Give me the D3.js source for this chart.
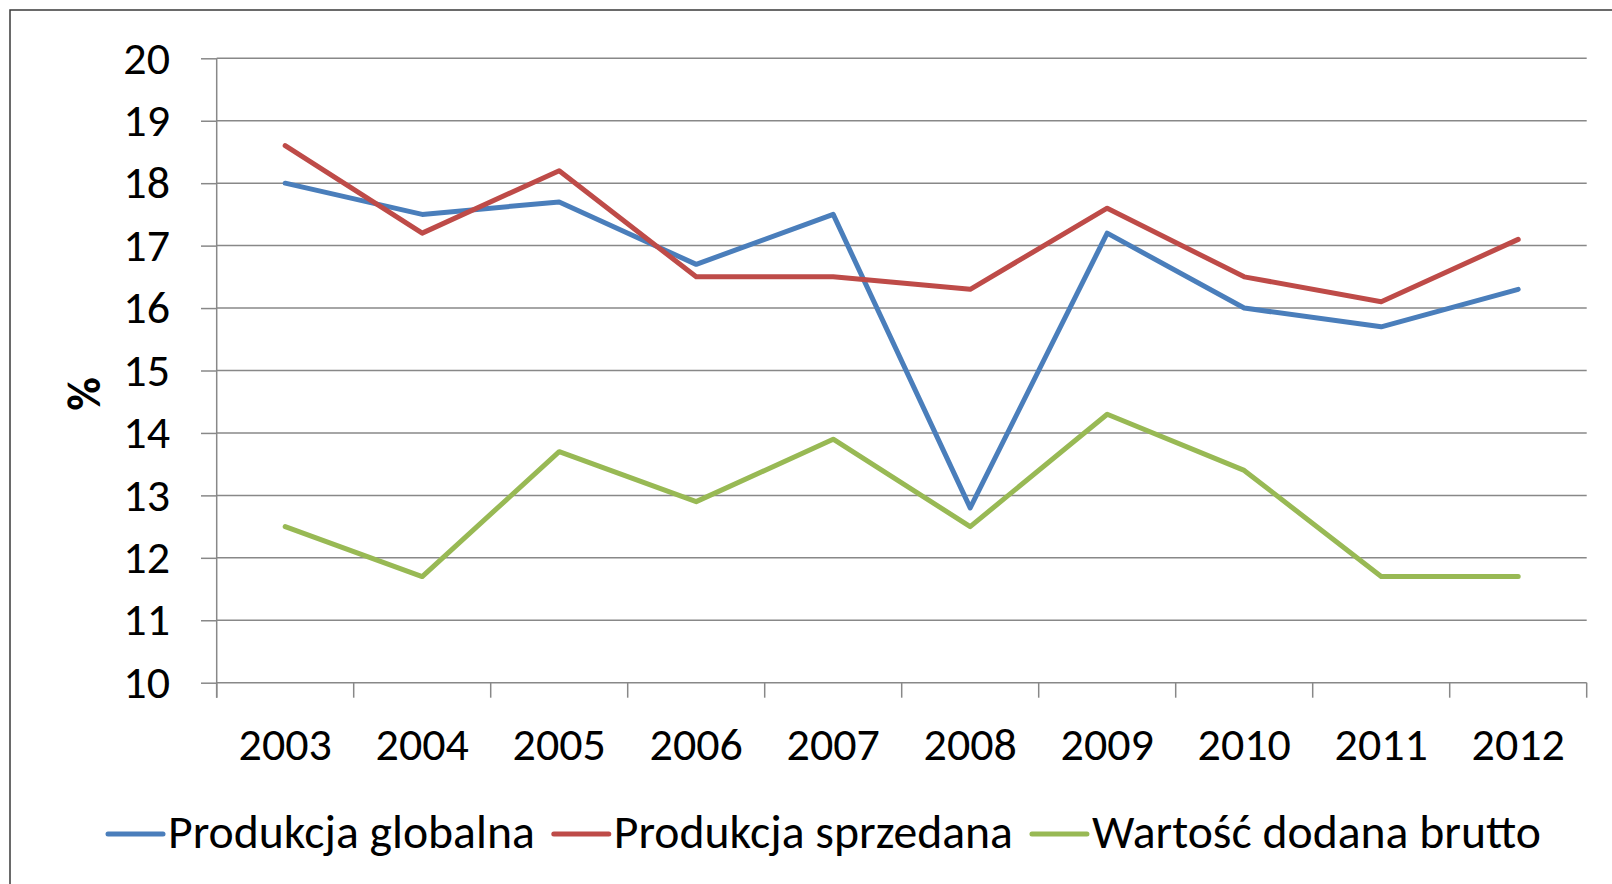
<!DOCTYPE html>
<html><head><meta charset="utf-8">
<script src="https://cdn.jsdelivr.net/npm/d3@7/dist/d3.min.js"></script>
<style>
html,body{margin:0;padding:0;background:#fff;}
svg{display:block;}
text{font-family:Carlito, Calibri, "Liberation Sans", Arial, sans-serif;fill:#000;}
</style></head>
<body>
<svg id="chart" width="1612" height="884"></svg>
<script>
const years = ["2003","2004","2005","2006","2007","2008","2009","2010","2011","2012"];
const produkcjaGlobalna = [18.0,17.5,17.7,16.7,17.5,12.8,17.2,16.0,15.7,16.3];
const produkcjaSprzedana = [18.6,17.2,18.2,16.5,16.5,16.3,17.6,16.5,16.1,17.1];
const wartoscDodana = [12.5,11.7,13.7,12.9,13.9,12.5,14.3,13.4,11.7,11.7];
const yTicks = [10,11,12,13,14,15,16,17,18,19,20];
const seriesNames = ["Produkcja globalna","Produkcja sprzedana","Wartość dodana brutto"];
const seriesColors = ["#4A7EBB","#BE4B48","#98B954"];
const seriesValues = [produkcjaGlobalna, produkcjaSprzedana, wartoscDodana];

const svg = d3.select("#chart");
const pLeft = 216.7, pRight = 1586.7, pTop = 58.3, pBottom = 682.7;
const FONT = "Carlito, Calibri, 'Liberation Sans', Arial, sans-serif";

// outer border
svg.append("rect").attr("x",10).attr("y",10).attr("width",1700).attr("height",1000)
  .attr("fill","none").attr("stroke","#3a3a3a").attr("stroke-width",1.5);

const x = d3.scaleBand().domain(years).range([pLeft,pRight]).padding(0);
const y = d3.scaleLinear().domain([10,20]).range([pBottom,pTop]);
const gridColor = "#888";

// gridlines
svg.append("g").selectAll("line").data(yTicks.filter(t=>t>10)).join("line")
  .attr("x1",pLeft).attr("x2",pRight).attr("y1",d=>y(d)).attr("y2",d=>y(d))
  .attr("stroke",gridColor).attr("stroke-width",1.5);

// y axis
const yAxis = svg.append("g").attr("transform",`translate(${pLeft},0)`)
  .call(d3.axisLeft(y).tickValues(yTicks).tickSize(15.7).tickPadding(31).tickFormat(d3.format("d")));
yAxis.select(".domain").attr("stroke",gridColor).attr("stroke-width",1.5).attr("d",`M0,${pTop}V${pBottom+15}`);
yAxis.selectAll(".tick line").attr("stroke",gridColor).attr("stroke-width",1.5);
yAxis.selectAll(".tick text").attr("font-size",46).attr("fill","#000").style("font-family",FONT);

// x axis labels
const xAxis = svg.append("g").attr("transform",`translate(0,${pBottom})`)
  .call(d3.axisBottom(x).tickSize(0).tickPadding(45));
xAxis.select(".domain").attr("stroke",gridColor).attr("stroke-width",1.5).attr("d",`M${pLeft},0H${pRight}`);
xAxis.selectAll(".tick text").attr("font-size",46).attr("fill","#000").style("font-family",FONT);

// x boundary ticks
const bounds = d3.range(years.length+1);
const xb = d3.scaleLinear().domain([0,years.length]).range([pLeft,pRight]);
svg.append("g").selectAll("line").data(bounds).join("line")
  .attr("x1",d=>xb(d)).attr("x2",d=>xb(d)).attr("y1",pBottom).attr("y2",pBottom+15)
  .attr("stroke",gridColor).attr("stroke-width",1.5);

// y axis title
svg.append("text").attr("transform","translate(84,394) rotate(-90)")
  .attr("text-anchor","middle").attr("dominant-baseline","central")
  .attr("font-size",46).attr("font-weight","bold").text("%");

// lines
const line = d3.line().x((d,i)=>x(years[i])+x.bandwidth()/2).y(d=>y(d));
seriesValues.forEach((vals,k)=>{
  svg.append("path").datum(vals).attr("d",line).attr("fill","none")
    .attr("stroke",seriesColors[k]).attr("stroke-width",5)
    .attr("stroke-linejoin","round").attr("stroke-linecap","round");
});

// legend (sequential layout)
const lg = svg.append("g");
let cx = 108;
seriesNames.forEach((name,k)=>{
  lg.append("line").attr("x1",cx).attr("x2",cx+55).attr("y1",834).attr("y2",834)
    .attr("stroke",seriesColors[k]).attr("stroke-width",5).attr("stroke-linecap","round");
  const t = lg.append("text").attr("x",cx+60).attr("y",848).attr("font-size",47.7).text(name);
  cx = cx + 60 + t.node().getComputedTextLength() + 19;
});
</script>
</body></html>
